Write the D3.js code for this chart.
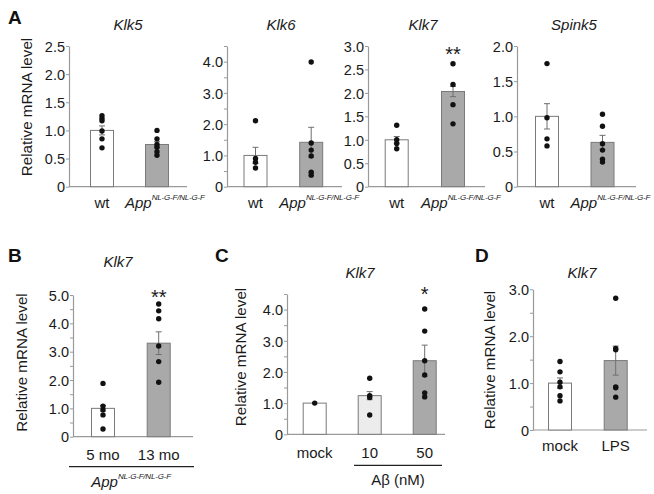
<!DOCTYPE html>
<html><head><meta charset="utf-8">
<script src="https://cdn.jsdelivr.net/npm/d3@7"></script>
<style>body{margin:0;background:#fff} svg{display:block;font-family:"Liberation Sans",Arial,Helvetica,sans-serif}</style>
</head><body><svg id="c" width="654" height="494"></svg>
<script>
// ---------- data ----------
const groupsA = ["wt", "App"];
const klk5Mean = [1.0, 0.75];
const klk5SE = [0.08, 0.05];
const klk5Pts = [[1.26, 1.21, 1.17, 0.99, 0.85, 0.69], [1.0, 0.85, 0.75, 0.70, 0.62, 0.56]];
const klk6Mean = [1.0, 1.42];
const klk6SE = [0.26, 0.48];
const klk6Pts = [[2.11, 0.9, 0.78, 0.6], [3.99, 1.4, 1.17, 0.98, 0.46, 0.37]];
const klk7Mean = [1.0, 2.03];
const klk7SE = [0.07, 0.11];
const klk7Pts = [[1.31, 1.0, 0.92, 0.81], [2.62, 2.18, 1.75, 1.34]];
const spink5Mean = [1.0, 0.63];
const spink5SE = [0.18, 0.10];
const spink5Pts = [[1.75, 0.98, 0.68, 0.58], [1.03, 0.86, 0.61, 0.52, 0.39, 0.35]];
const groupsB = ["5 mo", "13 mo"];
const bMean = [1.0, 3.3];
const bSE = [0.1, 0.4];
const bPts = [[1.88, 1.08, 0.95, 0.77, 0.27], [4.68, 4.44, 4.16, 3.2, 2.65, 1.92]];
const groupsC = ["mock", "10", "50"];
const cMean = [1.0, 1.24, 2.36];
const cSE = [0, 0.13, 0.5];
const cPts = [[1.0], [1.8, 1.24, 1.18, 0.62], [4.02, 3.31, 2.36, 1.9, 1.33, 1.2]];
const groupsD = ["mock", "LPS"];
const dMean = [1.0, 1.48];
const dSE = [0.11, 0.31];
const dPts = [[1.46, 1.24, 1.02, 0.92, 0.73, 0.62], [2.81, 1.74, 1.71, 0.92, 0.9, 0.7]];
const sigKlk7 = ["", "**"];
const sigB = ["", "**"];
const sigC = ["", "", "*"];
const yMaxA = [2.5, 4.5, 3.0, 2.0];
const yMaxB = 5.0, yMaxC = 4.5, yMaxD = 3.0;

// ---------- styles ----------
const WHITE = "#ffffff", GREY = "#a9a9a9", LIGHT = "#ececec";
const svg = d3.select("#c");
const TXT = "#1a1a1a";

function appLabel(sel) {
  sel.append("tspan").attr("font-style", "italic").text("App");
  sel.append("tspan").attr("font-style", "italic").attr("font-size", 8).attr("letter-spacing", -0.2)
    .attr("dy", -8).text("NL-G-F/NL-G-F");
}

function panel(o) {
  const g = svg.append("g");
  const y = d3.scaleLinear().domain([0, o.max]).range([o.y0, o.yTop]);
  const x = d3.scalePoint().domain(o.cats).range([o.c0, o.c1]);
  const bw = 23;
  const ticks = d3.range(0, o.max + 0.001, 0.5);
  const ax = d3.axisLeft(y).tickValues(ticks).tickSize(3).tickSizeOuter(0).tickPadding(1)
    .tickFormat(d => {
      if (d === 0) return "0";
      if (o.labelEvery === 1 && Math.abs(d - Math.round(d)) > 1e-6) return "";
      return d.toFixed(1);
    });
  const ag = g.append("g").attr("transform", `translate(${o.axisX},0)`).call(ax);
  ag.select(".domain").attr("stroke", "#9a9a9a").attr("stroke-width", 1.2);
  ag.selectAll(".tick line").attr("stroke", "#9a9a9a");
  ag.selectAll(".tick text").attr("font-size", 14.5).attr("fill", TXT).attr("dy", "0.36em")
    .attr("font-family", "Liberation Sans, Arial, sans-serif");
  g.append("line").attr("x1", o.axisX).attr("x2", o.endX).attr("y1", y(0)).attr("y2", y(0))
    .attr("stroke", "#9a9a9a").attr("stroke-width", 1.2);
  o.cats.forEach((c, i) => {
    g.append("rect").attr("x", x(c) - bw / 2).attr("width", bw)
      .attr("y", y(o.mean[i])).attr("height", y(0) - y(o.mean[i]))
      .attr("fill", o.fills[i]).attr("stroke", "#7a7a7a").attr("stroke-width", 1);
    if (o.se[i] > 0) {
      const cx = x(c), t = y(o.mean[i] + o.se[i]), b = y(o.mean[i] - o.se[i]);
      g.append("line").attr("x1", cx).attr("x2", cx).attr("y1", t).attr("y2", b).attr("stroke", "#6f6f6f").attr("stroke-width", 1);
      g.append("line").attr("x1", cx - 3).attr("x2", cx + 3).attr("y1", t).attr("y2", t).attr("stroke", "#6f6f6f").attr("stroke-width", 1);
      g.append("line").attr("x1", cx - 3).attr("x2", cx + 3).attr("y1", b).attr("y2", b).attr("stroke", "#6f6f6f").attr("stroke-width", 1);
    }
    g.selectAll(null).data(o.pts[i]).enter().append("circle")
      .attr("cx", x(c)).attr("cy", d => y(d)).attr("r", 2.7).attr("fill", "#111");
    if (o.sig && o.sig[i]) {
      g.append("text").attr("x", x(c)).attr("y", y(o.sigVal)).attr("text-anchor", "middle")
        .attr("font-size", 20).attr("fill", TXT).text(o.sig[i]);
    }
  });
  g.append("text").attr("x", o.titleX).attr("y", o.titleY).attr("text-anchor", "middle")
    .attr("font-size", 15).attr("font-style", "italic").attr("fill", TXT).text(o.title);
  if (o.yTitleX) {
    g.append("text").attr("transform", `translate(${o.yTitleX},${o.yTitleY}) rotate(-90)`)
      .attr("text-anchor", "middle").attr("font-size", 15.2).attr("fill", TXT).text("Relative mRNA level");
  }
  o.cats.forEach((c, i) => {
    if (c === "App") {
      const t = g.append("text").attr("x", x(c) - 32).attr("y", o.xLabY).attr("fill", TXT).attr("font-size", 15);
      appLabel(t);
    } else {
      g.append("text").attr("x", x(c)).attr("y", o.xLabY).attr("text-anchor", "middle")
        .attr("font-size", 15).attr("fill", TXT).text(c);
    }
  });
  return {x, y};
}

function letter(t, x, y) {
  svg.append("text").attr("x", x).attr("y", y).attr("font-size", 19).attr("font-weight", "bold")
    .attr("fill", "#111").text(t);
}

// ---------- panel A ----------
panel({cats: groupsA, mean: klk5Mean, se: klk5SE, pts: klk5Pts, fills: [WHITE, GREY], max: yMaxA[0],
  axisX: 69, endX: 187, y0: 186.7, yTop: 46, c0: 102, c1: 157, labelEvery: 0.5,
  title: "Klk5", titleX: 128, titleY: 30, yTitleX: 32, yTitleY: 107, xLabY: 208});
panel({cats: groupsA, mean: klk6Mean, se: klk6SE, pts: klk6Pts, fills: [WHITE, GREY], max: yMaxA[1],
  axisX: 227, endX: 342, y0: 186.7, yTop: 46, c0: 255.5, c1: 311.2, labelEvery: 1,
  title: "Klk6", titleX: 281, titleY: 30, xLabY: 208});
panel({cats: groupsA, mean: klk7Mean, se: klk7SE, pts: klk7Pts, fills: [WHITE, GREY], max: yMaxA[2],
  axisX: 368, endX: 485, y0: 186.7, yTop: 46, c0: 396.7, c1: 453, labelEvery: 0.5,
  sig: sigKlk7, sigVal: 2.68,
  title: "Klk7", titleX: 423, titleY: 30, xLabY: 208});
panel({cats: groupsA, mean: spink5Mean, se: spink5SE, pts: spink5Pts, fills: [WHITE, GREY], max: yMaxA[3],
  axisX: 517, endX: 636, y0: 186.7, yTop: 46, c0: 547, c1: 602.5, labelEvery: 0.5,
  title: "Spink5", titleX: 574, titleY: 30, xLabY: 208});
letter("A", 8, 23.5);

// ---------- panel B ----------
panel({cats: groupsB, mean: bMean, se: bSE, pts: bPts, fills: [WHITE, GREY], max: yMaxB,
  axisX: 73, endX: 193, y0: 436.7, yTop: 295, c0: 103, c1: 158.7, labelEvery: 1,
  sig: sigB, sigVal: 4.68,
  title: "Klk7", titleX: 118, titleY: 266.7, yTitleX: 26.5, yTitleY: 362.5, xLabY: 460});
svg.append("line").attr("x1", 69).attr("x2", 194).attr("y1", 466.7).attr("y2", 466.7).attr("stroke", "#222").attr("stroke-width", 1.3);
appLabel(svg.append("text").attr("x", 131).attr("y", 487).attr("text-anchor", "middle").attr("fill", TXT).attr("font-size", 15));
letter("B", 8, 262);

// ---------- panel C ----------
panel({cats: groupsC, mean: cMean, se: cSE, pts: cPts, fills: [WHITE, LIGHT, GREY], max: yMaxC,
  axisX: 287, endX: 445, y0: 434.3, yTop: 294, c0: 314.7, c1: 424.7, labelEvery: 1,
  sig: sigC, sigVal: 4.27,
  title: "Klk7", titleX: 360, titleY: 278, yTitleX: 245.5, yTitleY: 357, xLabY: 458});
svg.append("line").attr("x1", 354).attr("x2", 442).attr("y1", 465.3).attr("y2", 465.3).attr("stroke", "#222").attr("stroke-width", 1.3);
svg.append("text").attr("x", 398).attr("y", 485).attr("text-anchor", "middle").attr("fill", TXT).attr("font-size", 15).text("Aβ (nM)");
letter("C", 215, 262);

// ---------- panel D ----------
panel({cats: groupsD, mean: dMean, se: dSE, pts: dPts, fills: [WHITE, GREY], max: yMaxD,
  axisX: 533, endX: 647, y0: 430, yTop: 289.3, c0: 560, c1: 615.7, labelEvery: 1,
  title: "Klk7", titleX: 582, titleY: 278, yTitleX: 494.5, yTitleY: 360, xLabY: 451});
letter("D", 475, 262);
</script></body></html>
